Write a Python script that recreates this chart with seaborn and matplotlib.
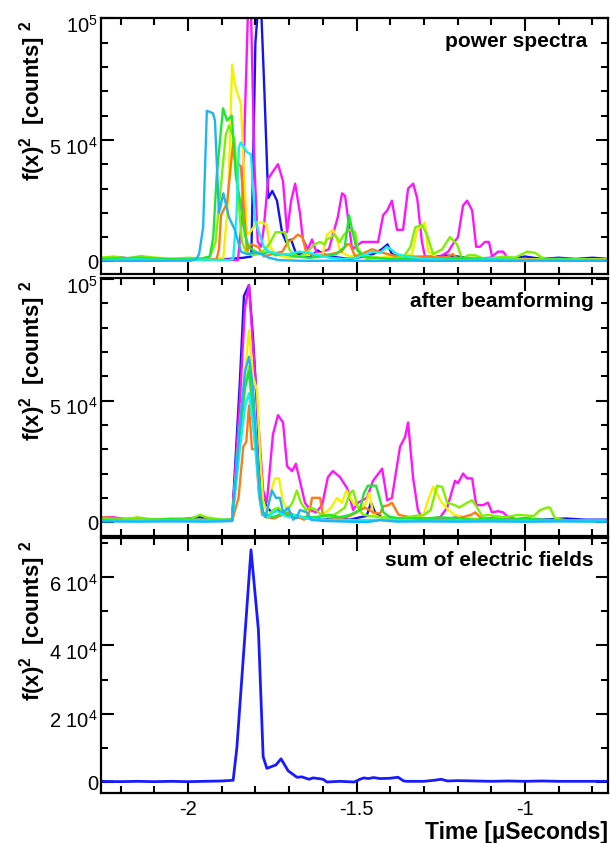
import matplotlib
matplotlib.use("Agg")
import matplotlib.pyplot as plt
import matplotlib.transforms as mtransforms
from matplotlib.ticker import MultipleLocator
import pandas as pd
import seaborn as sns

# ---------------- data ----------------
SERIES = ["blue", "magenta", "yellow", "orange", "chartreuse", "green", "cyan", "lightblue"]
COLORS = {"blue": "#1414f0", "magenta": "#ff14ff", "yellow": "#f2f200", "orange": "#ff7a14",
          "chartreuse": "#7ff000", "green": "#1ee632", "cyan": "#14f0f0", "lightblue": "#1eb4f5"}
SUM_COLOR = "#1a1aff"

# panel 1: power spectra  (time [µs], f(x)^2)
ps_blue = [(-2.258,1000),(-2.20,1500),(-2.14,800),(-2.08,1200),(-2.02,700),(-1.96,1000),(-1.90,800),(-1.86,1200),(-1.835,1500),(-1.812,2000),(-1.800,90000),(-1.794,101000),(-1.782,101000),(-1.773,69000),(-1.762,26000),(-1.750,29000),(-1.736,25000),(-1.721,12000),(-1.709,8000),(-1.694,9000),(-1.679,3000),(-1.660,3000),(-1.640,1500),(-1.615,4500),(-1.600,3000),(-1.575,2000),(-1.550,1500),(-1.520,1000),(-1.480,2000),(-1.450,3000),(-1.425,5000),(-1.408,7000),(-1.395,3000),(-1.370,1500),(-1.330,1000),(-1.280,1500),(-1.240,2500),(-1.200,2000),(-1.150,1000),(-1.100,1500),(-1.050,1000),(-1.000,2000),(-0.950,1000),(-0.900,1500),(-0.850,1000),(-0.800,1500),(-0.754,1000)]
ps_magenta = [(-2.258,1000),(-2.20,1500),(-2.12,800),(-2.05,1000),(-1.95,500),(-1.90,800),(-1.852,500),(-1.840,17000),(-1.831,60000),(-1.822,103000),(-1.813,103000),(-1.803,40000),(-1.793,8000),(-1.783,6000),(-1.775,14000),(-1.762,34000),(-1.748,37000),(-1.733,40000),(-1.718,33000),(-1.706,12000),(-1.694,25000),(-1.682,32000),(-1.668,20000),(-1.659,9000),(-1.644,5000),(-1.632,9000),(-1.617,3000),(-1.600,4000),(-1.582,5000),(-1.556,18000),(-1.543,28000),(-1.534,27000),(-1.513,5000),(-1.484,8000),(-1.436,8000),(-1.421,19000),(-1.409,21000),(-1.395,25000),(-1.380,13000),(-1.362,13000),(-1.347,30000),(-1.332,32000),(-1.320,26000),(-1.306,8000),(-1.297,2000),(-1.252,2000),(-1.228,4000),(-1.210,8000),(-1.199,10000),(-1.184,23000),(-1.172,25000),(-1.157,21000),(-1.145,6000),(-1.134,6000),(-1.119,8000),(-1.107,8000),(-1.098,2000),(-1.080,4000),(-1.065,4000),(-1.050,1000),(-1.000,1000),(-0.950,500),(-0.900,800),(-0.850,500),(-0.800,800),(-0.754,500)]
ps_yellow = [(-2.258,1500),(-2.20,1000),(-2.10,1500),(-2.00,1000),(-1.93,800),(-1.895,1500),(-1.881,25000),(-1.869,81000),(-1.861,73000),(-1.855,70000),(-1.843,65000),(-1.825,11000),(-1.816,12000),(-1.795,16000),(-1.780,16000),(-1.766,15000),(-1.757,6000),(-1.740,3000),(-1.720,2000),(-1.700,1500),(-1.670,2000),(-1.640,3000),(-1.600,3000),(-1.588,11000),(-1.570,13000),(-1.558,9000),(-1.548,4000),(-1.520,2000),(-1.490,3000),(-1.460,2000),(-1.430,1500),(-1.400,2000),(-1.370,1500),(-1.335,3000),(-1.320,13000),(-1.297,16000),(-1.288,4000),(-1.260,1500),(-1.220,1000),(-1.150,1500),(-1.100,1000),(-1.000,800),(-0.900,1000),(-0.754,800)]
ps_orange = [(-2.258,800),(-2.20,1200),(-2.10,500),(-2.05,800),(-1.95,600),(-1.915,1000),(-1.908,5000),(-1.902,19000),(-1.884,24000),(-1.866,49000),(-1.861,42000),(-1.843,39000),(-1.825,4000),(-1.813,7000),(-1.792,6000),(-1.775,2000),(-1.750,3000),(-1.720,4000),(-1.703,8000),(-1.690,9000),(-1.674,11000),(-1.660,10000),(-1.650,4000),(-1.620,2000),(-1.600,2500),(-1.575,3000),(-1.545,4000),(-1.528,7000),(-1.519,7000),(-1.504,2000),(-1.469,4000),(-1.454,5000),(-1.421,3500),(-1.380,2000),(-1.300,2000),(-1.250,1500),(-1.228,2000),(-1.214,3000),(-1.200,1000),(-1.150,800),(-1.050,500),(-0.950,600),(-0.850,500),(-0.754,500)]
ps_chartreuse = [(-2.258,1500),(-2.22,2000),(-2.18,1200),(-2.14,2200),(-2.10,1500),(-2.05,1000),(-2.00,1500),(-1.96,1200),(-1.935,2000),(-1.918,8000),(-1.903,30000),(-1.888,52000),(-1.878,56000),(-1.862,50000),(-1.850,25000),(-1.840,8000),(-1.828,4000),(-1.810,2500),(-1.790,3000),(-1.770,5000),(-1.755,8000),(-1.740,12000),(-1.712,12000),(-1.700,5000),(-1.688,3000),(-1.668,2000),(-1.645,4000),(-1.625,7000),(-1.608,8000),(-1.595,7000),(-1.588,9000),(-1.575,10000),(-1.564,11000),(-1.550,8000),(-1.537,11000),(-1.522,13000),(-1.504,12000),(-1.496,5000),(-1.470,1000),(-1.440,1500),(-1.400,1000),(-1.360,2000),(-1.340,6000),(-1.326,14000),(-1.306,15000),(-1.291,11000),(-1.273,3000),(-1.246,5000),(-1.223,10000),(-1.202,7000),(-1.187,1000),(-1.169,2500),(-1.148,2500),(-1.120,1000),(-1.059,2000),(-1.030,1500),(-0.994,4000),(-0.970,3500),(-0.955,2000),(-0.930,500),(-0.880,800),(-0.754,500)]
ps_green = [(-2.258,1000),(-2.15,1500),(-2.05,800),(-1.96,1000),(-1.935,2000),(-1.925,10000),(-1.915,35000),(-1.896,63000),(-1.884,58000),(-1.870,60000),(-1.858,35000),(-1.843,23000),(-1.831,11000),(-1.820,6000),(-1.800,4000),(-1.780,3000),(-1.760,4000),(-1.740,2500),(-1.720,3000),(-1.680,2000),(-1.640,1500),(-1.600,2000),(-1.560,3000),(-1.535,6000),(-1.522,19000),(-1.513,13000),(-1.500,5000),(-1.480,2000),(-1.450,1500),(-1.400,1000),(-1.300,1000),(-1.200,1500),(-1.100,1000),(-1.000,500),(-0.900,800),(-0.754,500)]
ps_cyan = [(-2.258,500),(-2.15,800),(-2.05,500),(-1.95,700),(-1.880,500),(-1.866,1000),(-1.856,19000),(-1.849,47000),(-1.843,49000),(-1.825,45000),(-1.813,44000),(-1.801,17000),(-1.787,11000),(-1.775,6000),(-1.760,4000),(-1.730,3000),(-1.700,3000),(-1.670,4000),(-1.640,3500),(-1.610,2500),(-1.580,1500),(-1.540,1000),(-1.500,1500),(-1.470,3000),(-1.450,4000),(-1.430,3500),(-1.410,6000),(-1.398,5000),(-1.380,3000),(-1.350,2000),(-1.300,1000),(-1.200,500),(-1.100,800),(-1.000,500),(-0.900,600),(-0.754,500)]
ps_lightblue = [(-2.258,300),(-2.15,200),(-2.05,300),(-1.990,300),(-1.975,1000),(-1.967,3000),(-1.955,14000),(-1.944,62000),(-1.926,61000),(-1.920,58000),(-1.908,20000),(-1.895,28000),(-1.878,18000),(-1.861,13000),(-1.843,4000),(-1.825,3000),(-1.800,3500),(-1.780,3000),(-1.760,1500),(-1.730,500),(-1.650,200),(-1.550,300),(-1.450,200),(-1.350,300),(-1.250,200),(-1.150,300),(-1.050,200),(-0.950,300),(-0.850,200),(-0.754,300)]

# panel 2: after beamforming
bf_blue = [(-2.258,1000),(-2.20,800),(-2.12,1200),(-2.05,800),(-1.965,2000),(-1.940,1000),(-1.900,800),(-1.869,1000),(-1.846,58000),(-1.834,93000),(-1.819,97500),(-1.807,76000),(-1.795,47000),(-1.786,22000),(-1.777,10000),(-1.766,6000),(-1.750,4000),(-1.730,5000),(-1.710,3000),(-1.680,2000),(-1.640,1500),(-1.600,1000),(-1.560,1500),(-1.520,1000),(-1.490,2000),(-1.470,2500),(-1.457,8000),(-1.445,4000),(-1.420,1500),(-1.380,1000),(-1.300,1500),(-1.250,1000),(-1.200,2000),(-1.160,1000),(-1.100,1500),(-1.050,1000),(-1.000,1500),(-0.950,1000),(-0.880,1500),(-0.820,1000),(-0.754,1000)]
bf_magenta = [(-2.258,2000),(-2.22,2000),(-2.18,1000),(-2.10,800),(-2.00,1000),(-1.93,600),(-1.869,800),(-1.846,50000),(-1.831,88000),(-1.819,97500),(-1.807,72000),(-1.786,31000),(-1.777,13000),(-1.766,8000),(-1.748,36000),(-1.733,44000),(-1.718,41000),(-1.706,23000),(-1.691,21000),(-1.680,24000),(-1.668,17000),(-1.653,8000),(-1.638,5000),(-1.620,4000),(-1.602,7000),(-1.585,18500),(-1.570,21000),(-1.549,18500),(-1.528,14000),(-1.510,5000),(-1.496,8000),(-1.469,10000),(-1.451,17000),(-1.424,22000),(-1.409,9000),(-1.395,10000),(-1.371,31000),(-1.356,35000),(-1.347,41000),(-1.332,18000),(-1.318,5000),(-1.303,1000),(-1.252,2000),(-1.231,6000),(-1.208,17000),(-1.199,16000),(-1.184,20000),(-1.172,18000),(-1.157,18000),(-1.145,7000),(-1.125,7000),(-1.110,8000),(-1.098,4000),(-1.080,4500),(-1.065,4000),(-1.050,2000),(-1.000,500),(-0.900,800),(-0.754,500)]
bf_yellow = [(-2.258,1000),(-2.15,1500),(-2.05,800),(-1.95,1000),(-1.869,800),(-1.846,40000),(-1.831,61000),(-1.819,79000),(-1.807,60000),(-1.795,54000),(-1.786,27000),(-1.777,9000),(-1.766,4000),(-1.755,12000),(-1.742,18000),(-1.730,18000),(-1.718,8500),(-1.706,5000),(-1.690,3000),(-1.670,2000),(-1.650,1500),(-1.620,2000),(-1.600,3000),(-1.575,6000),(-1.558,10000),(-1.543,8000),(-1.530,13000),(-1.510,8000),(-1.490,6000),(-1.475,7000),(-1.462,12000),(-1.450,3000),(-1.430,2000),(-1.400,1500),(-1.360,1000),(-1.330,1500),(-1.303,2000),(-1.288,9000),(-1.273,14500),(-1.262,12000),(-1.252,9000),(-1.231,5500),(-1.210,3000),(-1.180,2000),(-1.150,1500),(-1.100,1000),(-1.000,800),(-0.900,600),(-0.754,500)]
bf_orange = [(-2.258,2000),(-2.20,1500),(-2.12,1000),(-2.05,800),(-1.95,600),(-1.869,500),(-1.850,10000),(-1.836,31000),(-1.827,33000),(-1.819,48000),(-1.810,30000),(-1.798,30000),(-1.790,12000),(-1.780,3000),(-1.766,2000),(-1.745,1500),(-1.720,3000),(-1.700,4000),(-1.680,2500),(-1.655,1000),(-1.640,4000),(-1.632,10000),(-1.608,10000),(-1.600,3000),(-1.580,2000),(-1.550,1500),(-1.520,2500),(-1.500,4000),(-1.475,6000),(-1.450,4000),(-1.430,3500),(-1.421,6500),(-1.405,7000),(-1.395,8000),(-1.375,3000),(-1.340,2000),(-1.300,1500),(-1.250,1000),(-1.200,1500),(-1.160,3000),(-1.148,4000),(-1.130,1500),(-1.080,800),(-1.000,500),(-0.900,600),(-0.754,500)]
bf_chartreuse = [(-2.258,1500),(-2.20,1000),(-2.15,2000),(-2.10,1000),(-2.05,1500),(-1.99,1500),(-1.965,3000),(-1.945,2000),(-1.900,1000),(-1.869,1000),(-1.846,36000),(-1.831,56000),(-1.819,64000),(-1.807,42000),(-1.795,25000),(-1.786,10000),(-1.777,3000),(-1.766,2000),(-1.748,5000),(-1.733,6000),(-1.718,4000),(-1.705,5000),(-1.690,8000),(-1.677,13000),(-1.665,8000),(-1.650,5000),(-1.635,6000),(-1.620,5000),(-1.605,3000),(-1.580,2000),(-1.555,4000),(-1.535,6000),(-1.519,12000),(-1.510,13000),(-1.496,6000),(-1.480,3000),(-1.460,2500),(-1.430,2000),(-1.400,2000),(-1.370,1500),(-1.330,2500),(-1.300,3000),(-1.280,5000),(-1.261,15000),(-1.246,14500),(-1.231,8000),(-1.208,7000),(-1.195,6000),(-1.172,8000),(-1.157,9000),(-1.142,6000),(-1.128,2500),(-1.110,3000),(-1.090,2500),(-1.060,2000),(-1.020,3000),(-0.975,2500),(-0.955,5000),(-0.935,6000),(-0.926,6000),(-0.911,1500),(-0.880,800),(-0.820,500),(-0.754,500)]
bf_green = [(-2.258,1000),(-2.15,800),(-2.05,1200),(-1.95,800),(-1.869,1000),(-1.846,35000),(-1.831,55000),(-1.819,62000),(-1.807,45000),(-1.795,28000),(-1.786,12000),(-1.777,4000),(-1.766,3000),(-1.750,2000),(-1.730,3000),(-1.715,4000),(-1.700,3000),(-1.680,2500),(-1.650,2000),(-1.620,2000),(-1.580,3000),(-1.550,2000),(-1.520,3000),(-1.490,5000),(-1.478,12000),(-1.466,15000),(-1.442,15000),(-1.430,9000),(-1.420,4000),(-1.400,2000),(-1.360,1500),(-1.300,1500),(-1.250,2000),(-1.200,1500),(-1.150,1000),(-1.100,1500),(-1.050,1000),(-1.000,1500),(-0.950,1000),(-0.900,800),(-0.754,800)]
bf_cyan = [(-2.258,500),(-2.15,800),(-2.05,500),(-1.95,700),(-1.869,500),(-1.846,30000),(-1.830,48000),(-1.819,53000),(-1.807,40000),(-1.795,22000),(-1.786,8000),(-1.777,3000),(-1.760,2000),(-1.740,5000),(-1.720,3000),(-1.700,2000),(-1.680,3000),(-1.650,1500),(-1.600,1000),(-1.500,800),(-1.400,1000),(-1.300,500),(-1.200,600),(-1.100,500),(-1.000,400),(-0.900,500),(-0.754,400)]
bf_lightblue = [(-2.258,300),(-2.15,200),(-2.05,300),(-1.95,200),(-1.900,300),(-1.869,500),(-1.846,40000),(-1.831,62000),(-1.819,68000),(-1.807,55000),(-1.795,28000),(-1.786,10000),(-1.778,4000),(-1.770,2000),(-1.751,13000),(-1.739,10000),(-1.727,10000),(-1.718,4000),(-1.703,6000),(-1.688,1000),(-1.677,2000),(-1.668,5000),(-1.647,4000),(-1.635,1000),(-1.600,500),(-1.550,300),(-1.470,0),(-1.430,800),(-1.380,200),(-1.300,300),(-1.200,200),(-1.100,300),(-1.000,200),(-0.900,300),(-0.754,200)]

# panel 3: sum of electric fields
sum_t = [-2.258, -2.20, -2.15, -2.10, -2.05, -2.00, -1.95, -1.90, -1.866, -1.855, -1.813, -1.791, -1.777, -1.766, -1.739, -1.724, -1.703, -1.677, -1.662, -1.641, -1.629, -1.612, -1.599, -1.588, -1.550, -1.507, -1.490, -1.478, -1.465, -1.450, -1.430, -1.400, -1.377, -1.360, -1.350, -1.300, -1.270, -1.249, -1.230, -1.200, -1.150, -1.100, -1.050, -1.000, -0.950, -0.900, -0.850, -0.800, -0.754]
sum_v = [200, 100, 200, 100, 200, 100, 200, 300, 500, 10000, 68000, 44500, 7400, 4000, 5000, 6800, 3300, 1400, 1500, 800, 1200, 1000, 800, 0, 200, 0, 800, 1200, 1000, 1300, 1000, 1100, 1400, 300, 200, 200, 500, 800, 300, 400, 300, 200, 300, 200, 300, 200, 200, 200, 200]

PANEL_TEXT = ["power spectra", "after beamforming", "sum of electric fields"]
YLABEL = "f(x)$^{\\mathbf{2}}$  [counts] $^{\\mathbf{2}}$"
XLABEL = "Time [µSeconds]"
XTICKS = [-2.0, -1.5, -1.0]
XTICKLABELS = ["-2", "-1.5", "-1"]
YTICKS_A = [0, 50000, 100000]
YTICKLABELS_A = ["0", "5 10$^{4}$", "10$^{5}$"]
YTICKS_C = [0, 20000, 40000, 60000]
YTICKLABELS_C = ["0", "2 10$^{4}$", "4 10$^{4}$", "6 10$^{4}$"]


def to_frame(series_dict):
    rows = []
    for name in SERIES:
        for t, v in series_dict[name]:
            rows.append({"t": t, "v": v, "series": name})
    return pd.DataFrame(rows)


ps = to_frame({"blue": ps_blue, "magenta": ps_magenta, "yellow": ps_yellow, "orange": ps_orange,
               "chartreuse": ps_chartreuse, "green": ps_green, "cyan": ps_cyan, "lightblue": ps_lightblue})
bf = to_frame({"blue": bf_blue, "magenta": bf_magenta, "yellow": bf_yellow, "orange": bf_orange,
               "chartreuse": bf_chartreuse, "green": bf_green, "cyan": bf_cyan, "lightblue": bf_lightblue})

# ---------------- style ----------------
sns.set_style("ticks")
plt.rcParams.update({
    "font.family": ["Liberation Sans", "DejaVu Sans"],
    "mathtext.fontset": "custom",
    "mathtext.rm": "Liberation Sans",
    "mathtext.bf": "Liberation Sans:bold",
    "mathtext.it": "Liberation Sans:italic",
    "axes.unicode_minus": False,
    "axes.linewidth": 1.6,
    "axes.edgecolor": "black",
    "text.color": "black",
    "axes.labelcolor": "black",
    "xtick.color": "black",
    "ytick.color": "black",
})

fig = plt.figure(figsize=(6.11, 8.43), dpi=100)
L, W = 101 / 611, 507 / 611
ax1 = fig.add_axes([L, (843 - 274) / 843, W, 256 / 843])
ax2 = fig.add_axes([L, (843 - 536) / 843, W, 258 / 843])
ax3 = fig.add_axes([L, (843 - 793) / 843, W, 255 / 843])

sns.lineplot(data=ps, x="t", y="v", hue="series", hue_order=SERIES, palette=COLORS,
             estimator=None, sort=False, legend=False, lw=1.7, ax=ax1)
sns.lineplot(data=bf, x="t", y="v", hue="series", hue_order=SERIES, palette=COLORS,
             estimator=None, sort=False, legend=False, lw=1.7, ax=ax2)
sns.lineplot(x=sum_t, y=sum_v, color=SUM_COLOR, lw=2.0, estimator=None, sort=False, ax=ax3)

ax1.set_ylim(-5200, 100200)
ax2.set_ylim(-5700, 100400)
ax3.set_ylim(-3220, 71450)

shift = mtransforms.ScaledTranslation(0, -4 / 72, fig.dpi_scale_trans)
for ax, yt, ytl, txt in [(ax1, YTICKS_A, YTICKLABELS_A, PANEL_TEXT[0]),
                         (ax2, YTICKS_A, YTICKLABELS_A, PANEL_TEXT[1]),
                         (ax3, YTICKS_C, YTICKLABELS_C, PANEL_TEXT[2])]:
    ax.set_xlim(-2.258, -0.754)
    ax.set_xticks(XTICKS)
    ax.xaxis.set_minor_locator(MultipleLocator(0.1))
    ax.set_yticks(yt)
    ax.set_yticklabels(ytl)
    ax.yaxis.set_minor_locator(MultipleLocator(10000))
    ax.tick_params(which="both", direction="in", top=True, right=True, width=1.5, labelsize=14.5, pad=2)
    ax.tick_params(which="major", length=9)
    ax.tick_params(which="minor", length=5)
    for lab in ax.get_yticklabels():
        if "$" in lab.get_text():
            lab.set_transform(lab.get_transform() + shift)
    ax.set_xlabel("")
    ax.set_ylabel(YLABEL, fontsize=16, fontweight="bold", loc="top")
    ax.yaxis.set_label_coords(-0.104, 0.99)
    ax.text(0.972 if ax is not ax1 else 0.959, 0.91, txt, transform=ax.transAxes,
            ha="right", va="center", fontsize=15, fontweight="bold")
    for s in ax.spines.values():
        s.set_linewidth(1.6)

for ax in (ax1, ax2):
    ax.tick_params(labelbottom=False)
ax3.set_xticklabels(XTICKLABELS)
ax3.tick_params(axis="x", pad=5)
ax3.set_xlabel(XLABEL, fontsize=16.5, fontweight="bold", loc="right")
ax3.xaxis.set_label_coords(1.0, -0.108)

fig.savefig("out.png", dpi=100)
